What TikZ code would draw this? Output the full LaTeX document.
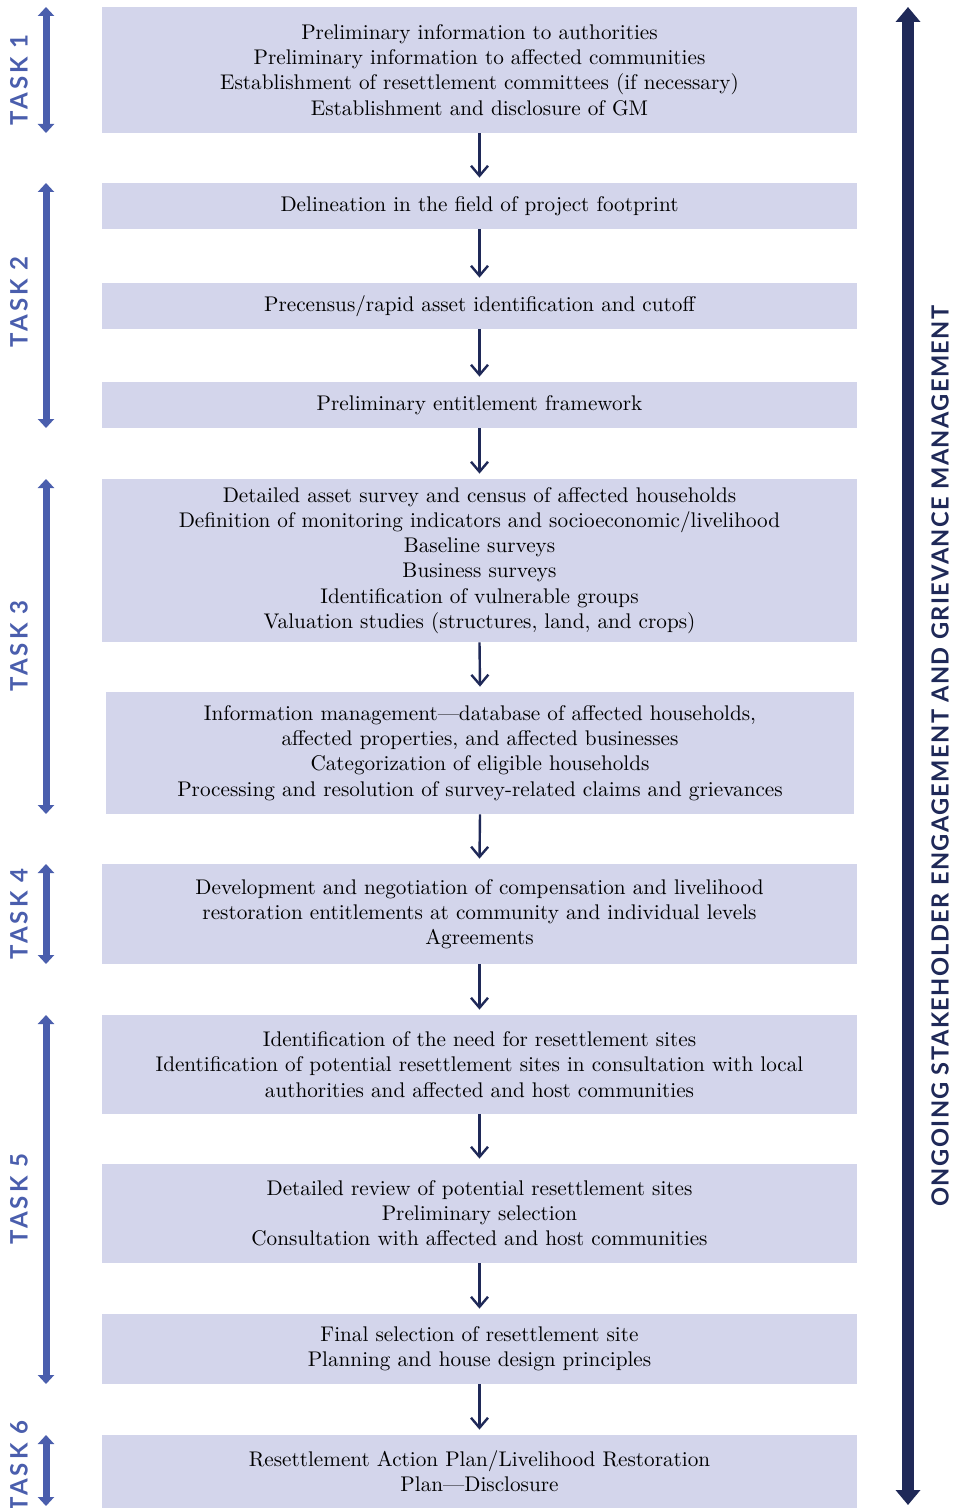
\documentclass[tikz,border=0pt]{standalone}
\usepackage{fontspec}
\usepackage{tikz}
\usetikzlibrary{arrows.meta}
\usetikzlibrary{positioning}
\newfontfamily\tasklabelfont{Lato}[LetterSpace=12]
\newfontfamily\ongoingfont{Lato}[LetterSpace=6]
\definecolor{boxfill}{HTML}{D3D5EB}
\definecolor{navy}{HTML}{1F2958}
\definecolor{taskblue}{HTML}{4A5EAD}

\begin{document}
\begin{tikzpicture}[x=0.5pt,y=-0.5pt,
  phase/.style={fill=boxfill, minimum width=377.5pt, inner sep=0pt,
    align=center, font=\fontsize{10.6}{12.6}\selectfont},
  flow/.style={navy, line width=1.2pt, -{Straight Barb[length=5pt,width=8.5pt]}},
  task/.style={taskblue, line width=3.5pt,
    {Triangle[width=8pt,length=4.5pt]}-{Triangle[width=8pt,length=4.5pt]}},
  tasklabel/.style={rotate=90, text=taskblue,
    font=\tasklabelfont\bfseries\fontsize{12}{12}\selectfont}]
  \useasboundingbox (0,0) rectangle (955,1508);

  \node[phase, minimum height=63pt] (b1) at (479.5,70) {Preliminary information to authorities\\
    Preliminary information to affected communities\\
    Establishment of resettlement committees (if necessary)\\
    Establishment and disclosure of GM};
  \node[phase, minimum height=23pt] (b2) at (479.5,206) {Delineation in the field of project footprint};
  \node[phase, minimum height=23pt] (b3) at (479.5,306) {Precensus/rapid asset identification and cutoff};
  \node[phase, minimum height=23pt] (b4) at (479.5,405) {Preliminary entitlement framework};
  \node[phase, minimum height=81.5pt] (b5) at (479.5,560.5) {Detailed asset survey and census of affected households\\
    Definition of monitoring indicators and socioeconomic/livelihood\\
    Baseline surveys\\
    Business surveys\\
    Identification of vulnerable groups\\
    Valuation studies (structures, land, and crops)};
  \node[phase, minimum height=61pt, minimum width=374pt] (b6) at (480,753) {Information management---database of affected households,\\
    affected properties, and affected businesses\\
    Categorization of eligible households\\
    Processing and resolution of survey-related claims and grievances};
  \node[phase, minimum height=50pt] (b7) at (479.5,914) {Development and negotiation of compensation and livelihood\\
    restoration entitlements at community and individual levels\\
    Agreements};
  \node[phase, minimum height=49.5pt] (b8) at (479.5,1064.5) {Identification of the need for resettlement sites\\
    Identification of potential resettlement sites in consultation with local\\
    authorities and affected and host communities};
  \node[phase, minimum height=49.5pt] (b9) at (479.5,1213.5) {Detailed review of potential resettlement sites\\
    Preliminary selection\\
    Consultation with affected and host communities};
  \node[phase, minimum height=35pt] (b10) at (479.5,1349) {Final selection of resettlement site\\
    Planning and house design principles};
  \node[phase, minimum height=36.5pt] (b11) at (479.5,1471.5) {Resettlement Action Plan/Livelihood Restoration\\
    Plan---Disclosure};

  \foreach \a/\b in {b1/b2,b2/b3,b3/b4,b4/b5,b5/b6,b6/b7,b7/b8,b8/b9,b9/b10,b10/b11}
    \draw[flow] (\a.south) -- ([yshift=2.5pt]\b.north);

  \draw[task] (46,7) -- (46,133);
  \draw[task] (46,183) -- (46,428);
  \draw[task] (46,479) -- (46,814);
  \draw[task] (46,864) -- (46,964);
  \draw[task] (46,1015) -- (46,1384);
  \draw[task] (46,1435) -- (46,1506);
  \node[tasklabel] (t1) at (19,80) {TASK 1};
  \node[tasklabel] (t2) at (19,302) {TASK 2};
  \node[tasklabel] (t3) at (19,646) {TASK 3};
  \node[tasklabel] (t4) at (19,914) {TASK 4};
  \node[tasklabel] (t5) at (19,1199) {TASK 5};
  \node[tasklabel] (t6) at (19,1466) {TASK 6};

  \draw[navy, line width=6pt,
    {Triangle[width=12pt,length=7.5pt]}-{Triangle[width=12pt,length=7.5pt]}] (908,7) -- (908,1505);
  \node[tasklabel, text=navy, font=\ongoingfont\bfseries\fontsize{11.8}{12}\selectfont] (ongoing) at (940,756)
    {ONGOING STAKEHOLDER ENGAGEMENT AND GRIEVANCE MANAGEMENT};
\end{tikzpicture}
\end{document}
